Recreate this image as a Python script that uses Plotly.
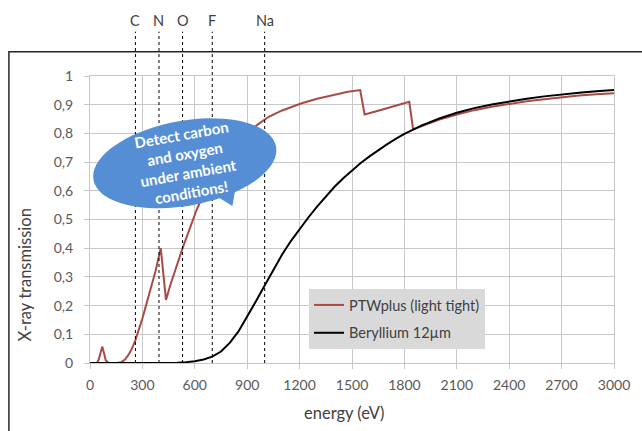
import numpy as np
import plotly.graph_objects as go

# ---------------- data ----------------
red_energy = [0, 40, 50, 60, 70, 80, 90, 105, 150, 180, 200, 220, 240, 260, 280, 300,
              325, 350, 375, 405, 435, 460, 490, 530, 560, 587, 610, 635, 670, 700,
              750, 800, 850, 900, 956, 1023, 1100, 1212, 1300, 1400, 1477, 1547, 1572,
              1650, 1750, 1828, 1850, 1900, 2000, 2100, 2200, 2300, 2400, 2500, 2600,
              2700, 2800, 2900, 3000]
red_trans = [0, 0, 0.012, 0.04, 0.057, 0.035, 0.01, 0.001, 0, 0.003, 0.012, 0.028, 0.05,
             0.08, 0.115, 0.155, 0.21, 0.265, 0.32, 0.40, 0.22, 0.272, 0.33, 0.40, 0.45,
             0.498, 0.533, 0.567, 0.61, 0.64, 0.69, 0.73, 0.765, 0.80, 0.829, 0.858,
             0.88, 0.905, 0.921, 0.935, 0.945, 0.951, 0.866, 0.879, 0.896, 0.910, 0.814,
             0.826, 0.848, 0.866, 0.881, 0.893, 0.903, 0.912, 0.919, 0.926, 0.932,
             0.936, 0.940]

be_energy = [0, 400, 500, 550, 600, 650, 700, 750, 800, 850, 900, 950, 1000, 1050, 1100,
             1150, 1200, 1250, 1300, 1350, 1400, 1450, 1500, 1550, 1600, 1650, 1700, 1750,
             1800, 1900, 2000, 2100, 2200, 2300, 2400, 2500, 2600, 2700, 2800, 2900, 3000]
be_trans = [0, 0, 0.001, 0.003, 0.006, 0.012, 0.022, 0.04, 0.07, 0.11, 0.16, 0.215, 0.27,
            0.325, 0.378, 0.425, 0.468, 0.507, 0.545, 0.581, 0.614, 0.644, 0.671, 0.697,
            0.72, 0.742, 0.762, 0.781, 0.798, 0.828, 0.852, 0.872, 0.888, 0.901, 0.912,
            0.921, 0.929, 0.936, 0.942, 0.947, 0.951]

elements = ["C", "N", "O", "F", "Na"]
element_energy = [260, 395, 530, 700, 1000]

x_ticks = list(range(0, 3001, 300))
y_ticks = [round(i * 0.1, 1) for i in range(11)]

bubble_text = "Detect carbon<br>and oxygen<br>under ambient<br>conditions!"

# ---------------- layout geometry ----------------
W, H = 642, 431
L, R, T, B = 90, 24, 76, 68
PW, PH = W - L - R, H - T - B


def px(xp):
    return (xp - L) / PW


def py(yp):
    return (H - B - yp) / PH


FONT = "Lato"
TICK_COLOR = "#595959"
TEXT_COLOR = "#404040"
GRID = "#c8c8c8"
RED = "#a84a46"

fig = go.Figure()
fig.add_trace(go.Scatter(x=red_energy, y=red_trans, mode="lines",
                         name="PTWplus (light tight)", legendgroup="a",
                         line=dict(color=RED, width=2)))
fig.add_trace(go.Scatter(x=be_energy, y=be_trans, mode="lines",
                         name="Beryllium 12µm", legendgroup="b",
                         line=dict(color="black", width=2)))

shapes = []
# element lines
for e in element_energy:
    shapes.append(dict(type="line", xref="x", yref="paper", x0=e, x1=e,
                       y0=0, y1=py(31.7), line=dict(color="black", width=1, dash="dot")))

# outer frame (only top/left visible)
shapes.append(dict(type="rect", xref="paper", yref="paper", x0=px(8.3), x1=px(660),
                   y0=py(450), y1=py(51.7), line=dict(color="#262626", width=1.5)))

# speech bubble
cx, cy, a, b, th = 185.5, 163.3, 93.5, 42.5, np.deg2rad(10.2)
t = np.linspace(0, 2 * np.pi, 73)
ux, uy = np.cos(th), -np.sin(th)
vx, vy = np.sin(th), np.cos(th)
ex = cx + a * np.cos(t) * ux + b * np.sin(t) * vx
ey = cy + a * np.cos(t) * uy + b * np.sin(t) * vy
path = "M " + " L ".join(f"{px(x):.5f},{py(y):.5f}" for x, y in zip(ex, ey)) + " Z"
shapes.append(dict(type="path", xref="paper", yref="paper", path=path,
                   fillcolor="#558ed5", line=dict(width=0)))
tail = [(214, 194), (233.5, 206), (237, 186)]
tpath = "M " + " L ".join(f"{px(x):.5f},{py(y):.5f}" for x, y in tail) + " Z"
shapes.append(dict(type="path", xref="paper", yref="paper", path=tpath,
                   fillcolor="#558ed5", line=dict(width=0)))

annotations = []
for name, e in zip(elements, element_energy):
    annotations.append(dict(x=e, y=py(20.7), xref="x", yref="paper", text=name,
                            showarrow=False, font=dict(family=FONT, size=14.5, color=TEXT_COLOR),
                            xanchor="center", yanchor="middle"))
annotations.append(dict(x=px(187), y=py(163), xref="paper", yref="paper", text=bubble_text,
                        showarrow=False, textangle=-10,
                        font=dict(family=FONT, size=15, color="white", weight="bold"),
                        xanchor="center", yanchor="middle"))
annotations.append(dict(x=px(346), y=py(413), xref="paper", yref="paper", text="energy (eV)",
                        showarrow=False, font=dict(family=FONT, size=16.5, color=TEXT_COLOR),
                        xanchor="center", yanchor="middle"))
annotations.append(dict(x=px(25), y=py(275), xref="paper", yref="paper",
                        text="X-ray transmission", textangle=-90,
                        showarrow=False, font=dict(family=FONT, size=16.5, color=TEXT_COLOR),
                        xanchor="center", yanchor="middle"))

fig.update_layout(
    width=W, height=H,
    margin=dict(l=L, r=R, t=T, b=B),
    paper_bgcolor="white", plot_bgcolor="white",
    separators=", ",
    font=dict(family=FONT, color=TICK_COLOR),
    shapes=shapes, annotations=annotations,
    legend=dict(x=px(310.7), y=py(289), xanchor="left", yanchor="top",
                bgcolor="#d9d9d9", borderwidth=0, traceorder="grouped",
                tracegroupgap=6, font=dict(family=FONT, size=14.5, color=TEXT_COLOR),
                itemwidth=30),
    xaxis=dict(range=[0, 3000], tickvals=x_ticks, showgrid=True, gridcolor=GRID,
               gridwidth=1.3, ticks="outside", ticklen=5, tickcolor=GRID, tickwidth=1.3,
               showline=True, linecolor=GRID, linewidth=1.3, mirror=True, zeroline=False,
               tickfont=dict(family=FONT, size=14, color=TICK_COLOR), ticklabelstandoff=4),
    yaxis=dict(range=[0, 1], tickvals=y_ticks, showgrid=True, gridcolor=GRID,
               gridwidth=1.3, ticks="outside", ticklen=5, tickcolor=GRID, tickwidth=1.3,
               showline=True, linecolor=GRID, linewidth=1.3, mirror=True, zeroline=False,
               tickfont=dict(family=FONT, size=14, color=TICK_COLOR), ticklabelstandoff=8),
)

fig.write_html("out.html", config={"displayModeBar": False},
               post_script="document.body.style.margin='0';document.body.style.overflow='hidden';")
